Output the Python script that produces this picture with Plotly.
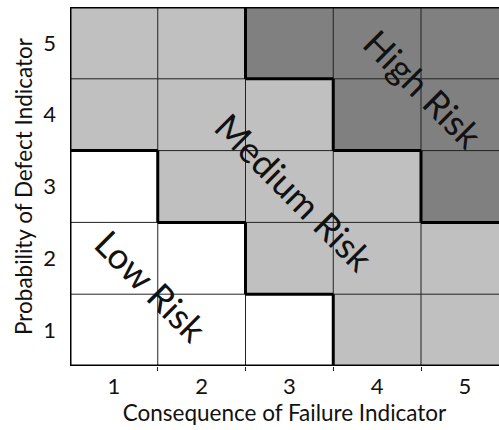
import plotly.graph_objects as go

# Data
consequence = [1, 2, 3, 4, 5]          # x categories
probability = [1, 2, 3, 4, 5]          # y categories
# risk level per cell: rows = probability 1..5, cols = consequence 1..5
# 0 = low, 1 = medium, 2 = high
risk_level = [
    [0, 0, 0, 1, 1],   # P=1
    [0, 0, 1, 1, 1],   # P=2
    [0, 1, 1, 1, 2],   # P=3
    [1, 1, 1, 2, 2],   # P=4
    [1, 1, 2, 2, 2],   # P=5
]
risk_names = ["Low Risk", "Medium Risk", "High Risk"]
label_x = [1.43, 3.06, 4.53]
label_y = [1.62, 2.92, 4.36]
level_colors = ["#ffffff", "#c0c0c0", "#808080"]

FONT = "Lato, 'Open Sans', sans-serif"

fig = go.Figure()
fig.add_trace(go.Heatmap(
    x=consequence, y=probability, z=risk_level,
    zmin=0, zmax=2,
    colorscale=[[0, level_colors[0]], [0.5, level_colors[1]], [1, level_colors[2]]],
    showscale=False, hoverinfo="skip",
))

shapes = []
n = len(consequence)
# thin grid lines
for i in range(1, n):
    b = consequence[i] - 0.5
    shapes.append(dict(type="line", xref="x", yref="y", x0=b, x1=b, y0=0.5, y1=n + 0.5,
                       line=dict(color="#222", width=1)))
for j in range(1, n):
    b = probability[j] - 0.5
    shapes.append(dict(type="line", xref="x", yref="y", x0=0.5, x1=n + 0.5, y0=b, y1=b,
                       line=dict(color="#222", width=1)))
# thick boundaries between different risk levels
thick = dict(color="black", width=3)
for r in range(n):
    for c in range(n):
        if c + 1 < n and risk_level[r][c] != risk_level[r][c + 1]:
            xb = consequence[c] + 0.5
            shapes.append(dict(type="line", xref="x", yref="y", x0=xb, x1=xb,
                               y0=probability[r] - 0.5, y1=probability[r] + 0.5, line=thick))
        if r + 1 < n and risk_level[r][c] != risk_level[r + 1][c]:
            yb = probability[r] + 0.5
            shapes.append(dict(type="line", xref="x", yref="y", x0=consequence[c] - 0.5,
                               x1=consequence[c] + 0.5, y0=yb, y1=yb, line=thick))
# outer border
shapes.append(dict(type="rect", xref="x", yref="y", x0=0.5, x1=n + 0.5, y0=0.5, y1=n + 0.5,
                   line=thick, fillcolor="rgba(0,0,0,0)"))

annotations = []
for name, ax_, ay_ in zip(risk_names, label_x, label_y):
    annotations.append(dict(x=ax_, y=ay_, xref="x", yref="y", text=name, showarrow=False,
                            textangle=45, font=dict(family=FONT, size=36, color="#111")))

cell_w = 87.75
plot_w = 499 - 70
fig.update_layout(
    width=499, height=430,
    margin=dict(l=70, r=0, t=7, b=64, pad=0),
    paper_bgcolor="white", plot_bgcolor="white",
    shapes=shapes, annotations=annotations,
    font=dict(family=FONT, size=20, color="#111"),
    xaxis=dict(range=[0.5, 0.5 + plot_w / cell_w], tickvals=consequence, automargin=False,
               showgrid=False, zeroline=False, ticks="", showline=False,
               tickfont=dict(size=22), ticklabelstandoff=5,
               title=dict(text="Consequence of Failure Indicator", standoff=2,
                          font=dict(size=22.5)),
               minor=dict(tickmode="array", tickvals=[1.5, 2.5, 3.5, 4.5], ticks="outside",
                          ticklen=4, tickcolor="#222", tickwidth=1, showgrid=False)),
    yaxis=dict(range=[0.5, 5.5], tickvals=probability, automargin=False,
               showgrid=False, zeroline=False, ticks="", showline=False,
               tickfont=dict(size=22), ticklabelstandoff=13,
               title=dict(text="Probability of Defect Indicator", standoff=4,
                          font=dict(size=22.5))),
)
fig.write_html("out.html", config={"displayModeBar": False},
               post_script="document.body.style.margin='0';document.body.style.overflow='hidden';")
